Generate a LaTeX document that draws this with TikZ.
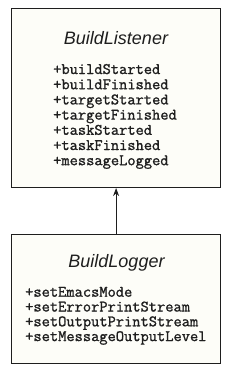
\documentclass[tikz,border=0pt]{standalone}
\usepackage{fontspec}
\setsansfont{Liberation Sans}
\setmonofont{Latin Modern Mono}[FakeBold=1.2]
\usepackage{tikz}
\usetikzlibrary{arrows.meta, positioning}

\definecolor{boxfill}{HTML}{FDFDF8}
\definecolor{ink}{HTML}{1E1E1E}

\tikzset{
  classbox/.style={draw=ink, line width=0.9pt, fill=boxfill, inner sep=0pt},
  classname/.style={font=\sffamily\itshape\fontsize{18}{20}\selectfont, text=ink, inner sep=0pt},
  method/.style={font=\ttfamily\fontsize{16}{15}\selectfont, text=ink, inner sep=0pt, anchor=base west},
}

\begin{document}
\begin{tikzpicture}[x=1pt, y=-1pt]
  \useasboundingbox (0,0) rectangle (231,378);

  % Interface box -----------------------------------------------------------
  \node[classbox, minimum width=209pt, minimum height=179pt] (listener) at (116.1,98.1) {};
  \node[classname, anchor=base] (listenername) at (116,44) {BuildListener};
  \foreach \m [count=\i] in {buildStarted, buildFinished, targetStarted,
      targetFinished, taskStarted, taskFinished, messageLogged}
    \node[method] (lm\i) at (53,74+15.2*\i-15.2) {+\m};

  % Implementing class box --------------------------------------------------
  \node[classbox, minimum width=209pt, minimum height=129pt] (logger) at (116.1,299.3) {};
  \node[classname, anchor=base] (loggername) at (116.5,267) {BuildLogger};
  \foreach \m [count=\i] in {setEmacsMode, setErrorPrintStream,
      setOutputPrintStream, setMessageOutputLevel}
    \node[method] (gm\i) at (25,296.7+14.8*\i-14.8) {+\m};

  % Realization arrow -------------------------------------------------------
  \draw[-{Stealth[length=8pt, width=6pt]}, ink, line width=0.9pt]
    (logger.north) -- (listener.south);
\end{tikzpicture}
\end{document}
